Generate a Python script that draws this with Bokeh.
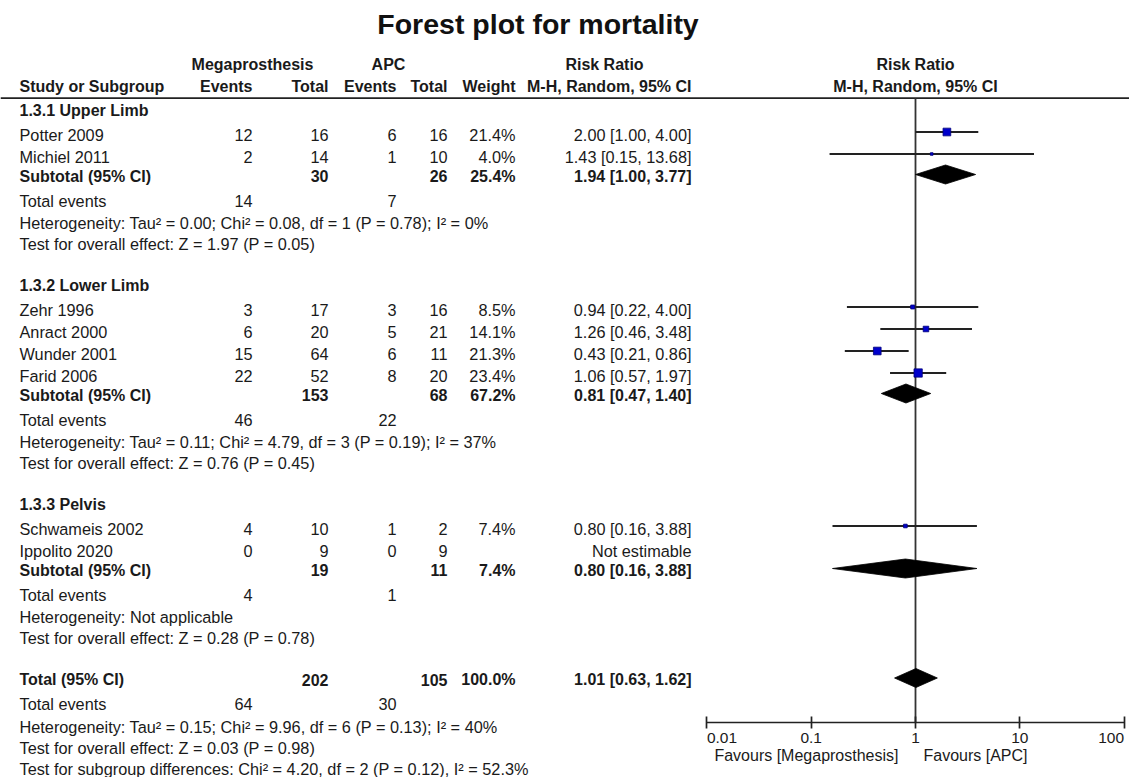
from bokeh.plotting import figure
from bokeh.models import Range1d, LogScale, LogAxis, FixedTicker, ColumnDataSource
from bokeh.core.properties import value
from bokeh.embed import file_html
from bokeh.resources import INLINE

# ---------------------------------------------------------------- data
subgroup_names = ["1.3.1 Upper Limb", "1.3.2 Lower Limb", "1.3.3 Pelvis"]

study_names = ["Potter 2009", "Michiel 2011",
               "Zehr 1996", "Anract 2000", "Wunder 2001", "Farid 2006",
               "Schwameis 2002", "Ippolito 2020"]
study_group = [0, 0, 1, 1, 1, 1, 2, 2]
mega_events = [12, 2, 3, 6, 15, 22, 4, 0]
mega_total = [16, 14, 17, 20, 64, 52, 10, 9]
apc_events = [6, 1, 3, 5, 6, 8, 1, 0]
apc_total = [16, 10, 16, 21, 11, 20, 2, 9]
study_weight = [21.4, 4.0, 8.5, 14.1, 21.3, 23.4, 7.4, None]
study_rr = [2.00, 1.43, 0.94, 1.26, 0.43, 1.06, 0.80, None]
study_lo = [1.00, 0.15, 0.22, 0.46, 0.21, 0.57, 0.16, None]
study_hi = [4.00, 13.68, 4.00, 3.48, 0.86, 1.97, 3.88, None]

sub_mega_total = [30, 153, 19]
sub_apc_total = [26, 68, 11]
sub_mega_events = [14, 46, 4]
sub_apc_events = [7, 22, 1]
sub_weight = [25.4, 67.2, 7.4]
sub_rr = [1.94, 0.81, 0.80]
sub_lo = [1.00, 0.47, 0.16]
sub_hi = [3.77, 1.40, 3.88]
sub_heterogeneity = [
    "Heterogeneity: Tau\u00b2 = 0.00; Chi\u00b2 = 0.08, df = 1 (P = 0.78); I\u00b2 = 0%",
    "Heterogeneity: Tau\u00b2 = 0.11; Chi\u00b2 = 4.79, df = 3 (P = 0.19); I\u00b2 = 37%",
    "Heterogeneity: Not applicable",
]
sub_overall = [
    "Test for overall effect: Z = 1.97 (P = 0.05)",
    "Test for overall effect: Z = 0.76 (P = 0.45)",
    "Test for overall effect: Z = 0.28 (P = 0.78)",
]

total_mega = 202
total_apc = 105
total_mega_events = 64
total_apc_events = 30
total_weight = 100.0
total_rr = 1.01
total_lo = 0.63
total_hi = 1.62
total_heterogeneity = "Heterogeneity: Tau\u00b2 = 0.15; Chi\u00b2 = 9.96, df = 6 (P = 0.13); I\u00b2 = 40%"
total_overall = "Test for overall effect: Z = 0.03 (P = 0.98)"
subgroup_diff = "Test for subgroup differences: Chi\u00b2 = 4.20, df = 2 (P = 0.12), I\u00b2 = 52.3%"

axis_ticks = [0.01, 0.1, 1, 10, 100]
axis_tick_labels = ["0.01", "0.1", "1", "10", "100"]
favours_left = "Favours [Megaprosthesis]"
favours_right = "Favours [APC]"

# ---------------------------------------------------------------- layout
W, H = 1129, 777
FONT = value("Liberation Sans")
BODY_SIZE = "16.3px"
BOLD_SIZE = "16px"
X_NAME, X_EV1, X_TOT1, X_EV2, X_TOT2, X_W, X_RR = 19, 252, 328, 396, 447, 515, 691
RR_CENTER_PX = 915          # pixel column of RR = 1
DECADE_PX = 104.3           # pixel width of one decade on the RR scale
HEADER_LINE_Y = 97.7
AXIS_Y = 722.3
MARK_SHIFT = -2.5           # marks sit slightly above the text centre line


def fmt_ci(r, lo, hi):
    return f"{r:.2f} [{lo:.2f}, {hi:.2f}]"


p = figure(width=W, height=H, output_backend="svg", toolbar_location=None,
           x_range=Range1d(0, W), y_range=Range1d(H, 0),
           x_axis_type=None, y_axis_type=None, min_border=0,
           outline_line_color=None)
p.grid.visible = False
p.background_fill_color = "white"
p.border_fill_color = "white"

p.extra_x_ranges = {"rr": Range1d(10 ** (-RR_CENTER_PX / DECADE_PX),
                                  10 ** ((W - RR_CENTER_PX) / DECADE_PX))}
p.extra_x_scales = {"rr": LogScale()}

tx, ty, tt, ta, ts, tz = [], [], [], [], [], []


def put(x, y, text, align="left", bold=False):
    tx.append(x); ty.append(y); tt.append(str(text)); ta.append(align)
    ts.append("bold" if bold else "normal")
    tz.append(BOLD_SIZE if bold else BODY_SIZE)


# column headers
put(252, 64, "Megaprosthesis", "center", True)
put(388, 64, "APC", "center", True)
put(604, 64, "Risk Ratio", "center", True)
put(19, 86, "Study or Subgroup", "left", True)
put(X_EV1, 86, "Events", "right", True)
put(X_TOT1, 86, "Total", "right", True)
put(X_EV2, 86, "Events", "right", True)
put(X_TOT2, 86, "Total", "right", True)
put(X_W, 86, "Weight", "right", True)
put(X_RR, 86, "M-H, Random, 95% CI", "right", True)

# rows
seg_x0, seg_x1, seg_y = [], [], []
sq_x, sq_y, sq_size = [], [], []
dia_xs, dia_ys = [], []
DIA_HALF = 9.5


def diamond(r, lo, hi, y):
    dia_xs.append([lo, r, hi, r])
    dia_ys.append([y, y - DIA_HALF, y, y + DIA_HALF])


y = 110.0
for g, gname in enumerate(subgroup_names):
    put(X_NAME, y, gname, "left", True)
    y += 24
    idx = [i for i, sg in enumerate(study_group) if sg == g]
    for k, i in enumerate(idx):
        if k > 0:
            y += 22
        put(X_NAME, y, study_names[i])
        put(X_EV1, y, mega_events[i], "right")
        put(X_TOT1, y, mega_total[i], "right")
        put(X_EV2, y, apc_events[i], "right")
        put(X_TOT2, y, apc_total[i], "right")
        if study_rr[i] is None:
            put(X_RR, y, "Not estimable", "right")
        else:
            put(X_W, y, f"{study_weight[i]:.1f}%", "right")
            put(X_RR, y, fmt_ci(study_rr[i], study_lo[i], study_hi[i]), "right")
            seg_x0.append(study_lo[i]); seg_x1.append(study_hi[i]); seg_y.append(y + MARK_SHIFT)
            sq_x.append(study_rr[i]); sq_y.append(y + MARK_SHIFT)
            sq_size.append(1.5 + 0.29 * study_weight[i])
    y += 19.5
    put(X_NAME, y, "Subtotal (95% CI)", "left", True)
    put(X_TOT1, y, sub_mega_total[g], "right", True)
    put(X_TOT2, y, sub_apc_total[g], "right", True)
    put(X_W, y, f"{sub_weight[g]:.1f}%", "right", True)
    put(X_RR, y, fmt_ci(sub_rr[g], sub_lo[g], sub_hi[g]), "right", True)
    diamond(sub_rr[g], sub_lo[g], sub_hi[g], y + MARK_SHIFT + 1)
    y += 24.5
    put(X_NAME, y, "Total events")
    put(X_EV1, y, sub_mega_events[g], "right")
    put(X_EV2, y, sub_apc_events[g], "right")
    y += 22.5
    put(X_NAME, y, sub_heterogeneity[g])
    y += 21
    put(X_NAME, y, sub_overall[g])
    y += 41.5

put(X_NAME, y, "Total (95% CI)", "left", True)
put(X_TOT1, y, total_mega, "right", True)
put(X_TOT2, y, total_apc, "right", True)
put(X_W, y, f"{total_weight:.1f}%", "right", True)
put(X_RR, y, fmt_ci(total_rr, total_lo, total_hi), "right", True)
diamond(total_rr, total_lo, total_hi, y + MARK_SHIFT + 1)
y += 24.5
put(X_NAME, y, "Total events")
put(X_EV1, y, total_mega_events, "right")
put(X_EV2, y, total_apc_events, "right")
y += 22.5
put(X_NAME, y, total_heterogeneity)
y += 21
put(X_NAME, y, total_overall)
y += 21
put(X_NAME, y, subgroup_diff)

# title
p.text(x=[537.5], y=[23.5], text=["Forest plot for mortality"], text_font=FONT,
       text_font_size="28.5px", text_font_style="bold", text_align="center",
       text_baseline="middle", text_color="#111111")

src = ColumnDataSource(dict(x=tx, y=ty, text=tt, align=ta, style=ts, size=tz))
p.text(x="x", y="y", text="text", source=src, text_align="align",
       text_font_style="style", text_font=FONT, text_font_size="size",
       text_baseline="middle", text_color="#1a1a1a")

# header for the plot panel
p.text(x=[1, 1], y=[64, 86], text=["Risk Ratio", "M-H, Random, 95% CI"],
       x_range_name="rr", text_font=FONT, text_font_size=BOLD_SIZE,
       text_font_style="bold", text_align="center", text_baseline="middle",
       text_color="#1a1a1a")

# rule under the header
p.segment(x0=[0], x1=[W], y0=[HEADER_LINE_Y], y1=[HEADER_LINE_Y],
          line_color="#222222", line_width=1.7)

# line of no effect
p.segment(x0=[1], x1=[1], y0=[HEADER_LINE_Y], y1=[AXIS_Y], x_range_name="rr",
          line_color="#333333", line_width=1.8)

# confidence intervals, study squares and pooled diamonds
p.segment(x0=seg_x0, x1=seg_x1, y0=seg_y, y1=seg_y, x_range_name="rr",
          line_color="#222222", line_width=1.8)
p.scatter(sq_x, sq_y, marker="square", size=sq_size, x_range_name="rr",
          fill_color="#0000cc", line_color="#00007a", line_width=0.8)
p.patches(dia_xs, dia_ys, x_range_name="rr", fill_color="black",
          line_color="black", line_width=0.8)

# risk ratio axis
axis = LogAxis(x_range_name="rr", fixed_location=AXIS_Y,
               bounds=(axis_ticks[0], axis_ticks[-1]),
               ticker=FixedTicker(ticks=axis_ticks, minor_ticks=[]),
               major_label_overrides={t: "" for t in axis_ticks})
axis.axis_line_color = "#222222"
axis.axis_line_width = 1.7
axis.major_tick_line_color = "#222222"
axis.major_tick_line_width = 1.7
axis.major_tick_in = 6
axis.major_tick_out = 6
axis.minor_tick_line_color = None
p.add_layout(axis, "below")

aligns = ["left"] + ["center"] * (len(axis_ticks) - 2) + ["right"]
p.text(x=axis_ticks, y=[737] * len(axis_ticks), text=axis_tick_labels,
       text_align=aligns, x_range_name="rr", text_font=FONT,
       text_font_size="15.5px", text_baseline="middle", text_color="#1a1a1a")

p.text(x=[1, 1], y=[755, 755], text=[favours_left, favours_right],
       x_offset=[-17, 8], text_align=["right", "left"], x_range_name="rr",
       text_font=FONT, text_font_size="16px", text_baseline="middle",
       text_color="#1a1a1a")

open("out.html", "w").write(file_html(p, INLINE))
